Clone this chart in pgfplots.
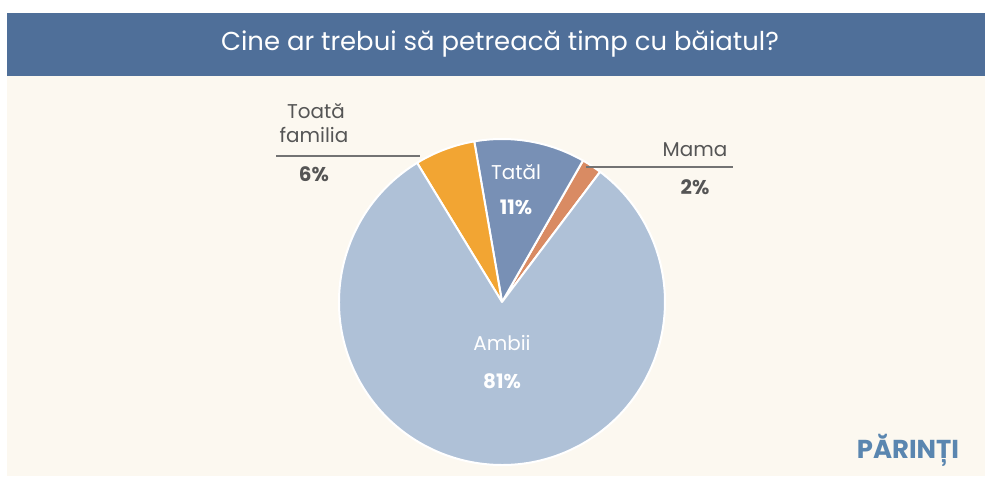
\documentclass[border=0pt]{standalone}
\usepackage{pgfplots}
\pgfplotsset{compat=1.18}
\usepackage{fontspec}
\setmainfont{Poppins}

\definecolor{barblue}{HTML}{4F6F99}
\definecolor{cream}{HTML}{FCF8F0}
\definecolor{cAmbii}{HTML}{AFC1D7}
\definecolor{cTatal}{HTML}{7890B5}
\definecolor{cMama}{HTML}{D98B63}
\definecolor{cToata}{HTML}{F2A533}
\definecolor{txt}{HTML}{555555}
\definecolor{logo}{HTML}{5A86B0}

% shares in percent, counterclockwise from the Mama slice
\pgfmathsetmacro\aA{53}
\pgfmathsetmacro\aB{\aA+2*3.6}   % Mama 2
\pgfmathsetmacro\aC{\aB+11*3.6}  % Tatal 11
\pgfmathsetmacro\aD{\aC+6*3.6}   % Toata familia 6
\pgfmathsetmacro\aE{\aD+81*3.6}  % Ambii 81

\begin{document}
\begin{tikzpicture}
\begin{axis}[
    scale only axis,
    width=992bp, height=480bp,
    xmin=0, xmax=992, ymin=0, ymax=480,
    hide axis,
    clip=false,
]
\fill[white] (axis cs:0,0) rectangle (axis cs:992,480);
\fill[cream] (axis cs:7,4) rectangle (axis cs:985,404);
\fill[barblue] (axis cs:7,404) rectangle (axis cs:985,467);
\node[white, font=\fontsize{26}{30}\selectfont] at (axis cs:500,436) {Cine ar trebui să petreacă timp cu băiatul?};

% pie slices
\fill[cMama, draw=white, line width=2bp, line join=round] (axis cs:502,178) -- ++(\aA:163bp) arc[start angle=\aA, end angle=\aB, radius=163bp] -- cycle;
\fill[cTatal, draw=white, line width=2bp, line join=round] (axis cs:502,178) -- ++(\aB:163bp) arc[start angle=\aB, end angle=\aC, radius=163bp] -- cycle;
\fill[cToata, draw=white, line width=2bp, line join=round] (axis cs:502,178) -- ++(\aC:163bp) arc[start angle=\aC, end angle=\aD, radius=163bp] -- cycle;
\fill[cAmbii, draw=white, line width=2bp, line join=round] (axis cs:502,178) -- ++(\aD:163bp) arc[start angle=\aD, end angle=\aE, radius=163bp] -- cycle;

% inside labels
\node[white, font=\fontsize{20}{24}\selectfont] at (axis cs:516,308) {Tatăl};
\node[white, font=\fontsize{20}{24}\selectfont\bfseries] at (axis cs:516,273) {11\%};
\node[white, font=\fontsize{20}{24}\selectfont] at (axis cs:502,137) {Ambii};
\node[white, font=\fontsize{20}{24}\selectfont\bfseries] at (axis cs:502,99) {81\%};

% outside labels
\draw[black!55, line width=1.2bp] (axis cs:276,324) -- (axis cs:420,324);
\node[txt, font=\fontsize{20}{24}\selectfont] at (axis cs:316,369) {Toată};
\node[txt, font=\fontsize{20}{24}\selectfont] at (axis cs:314,345) {familia};
\node[txt, font=\fontsize{20}{24}\selectfont\bfseries] at (axis cs:314,306) {6\%};
\draw[black!55, line width=1.2bp] (axis cs:586,313) -- (axis cs:733,313);
\node[txt, font=\fontsize{20}{24}\selectfont] at (axis cs:695,330) {Mama};
\node[txt, font=\fontsize{20}{24}\selectfont\bfseries] at (axis cs:695,293) {2\%};

\node[logo, font=\fontsize{26}{30}\selectfont\bfseries] at (axis cs:908,30) {PĂRINȚI};
\end{axis}
\end{tikzpicture}
\end{document}
